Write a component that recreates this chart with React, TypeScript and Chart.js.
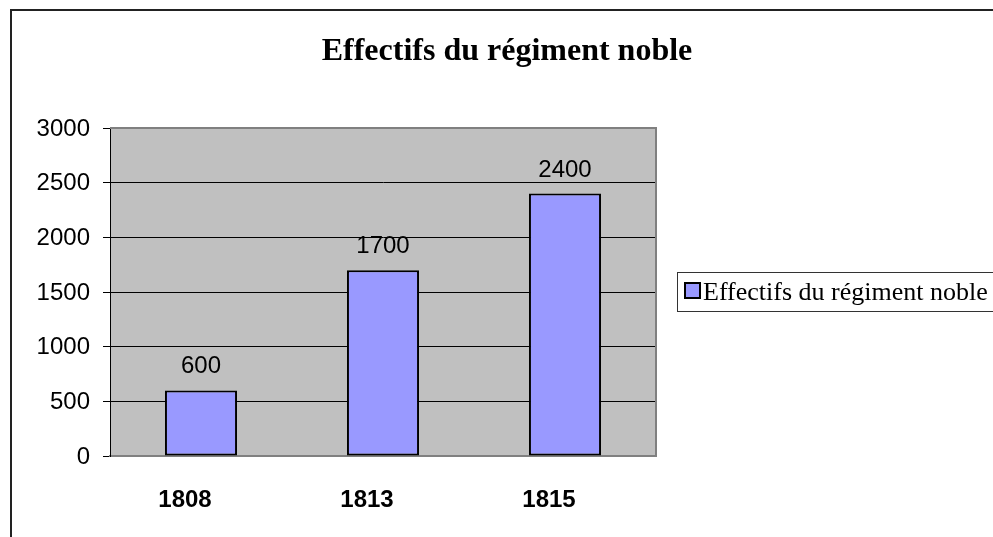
import React, { useEffect, useRef } from "react";
import { Chart, registerables } from "chart.js";

Chart.register(...registerables);

const categories = ["1808", "1813", "1815"];
const seriesLabel = "Effectifs du régiment noble";
const seriesValues = [600, 1700, 2400];
const yTicks = [0, 500, 1000, 1500, 2000, 2500, 3000];
const chartTitle = "Effectifs du régiment noble";

const W = 993;
const H = 537;

export default function App() {
  const ref = useRef<HTMLCanvasElement | null>(null);

  useEffect(() => {
    if (!ref.current) return;
    const decor = {
      id: "decor",
      beforeDraw(chart: any) {
        const { ctx, chartArea } = chart;
        ctx.save();
        ctx.fillStyle = "#ffffff";
        ctx.fillRect(0, 0, W, H);
        ctx.fillStyle = "#c0c0c0";
        ctx.fillRect(chartArea.left, chartArea.top, chartArea.right - chartArea.left, chartArea.bottom - chartArea.top);
        // outer frame
        ctx.strokeStyle = "#222222";
        ctx.lineWidth = 2;
        ctx.beginPath();
        ctx.moveTo(11, H + 2);
        ctx.lineTo(11, 10);
        ctx.lineTo(W + 2, 10);
        ctx.stroke();
        ctx.restore();
      },
      afterDatasetsDraw(chart: any) {
        const { ctx } = chart;
        const meta = chart.getDatasetMeta(0);
        ctx.save();
        ctx.fillStyle = "#000000";
        ctx.font = "24px 'Liberation Sans', Arial, sans-serif";
        ctx.textAlign = "center";
        ctx.textBaseline = "alphabetic";
        meta.data.forEach((bar: any, i: number) => {
          ctx.fillText(String(seriesValues[i]), bar.x, bar.y - 17);
        });
        ctx.restore();
      },
      afterDraw(chart: any) {
        const { ctx, chartArea } = chart;
        ctx.save();
        // plot border (top/right)
        ctx.strokeStyle = "#808080";
        ctx.lineWidth = 2;
        ctx.beginPath();
        ctx.moveTo(chartArea.left, chartArea.top);
        ctx.lineTo(chartArea.right, chartArea.top);
        ctx.lineTo(chartArea.right, chartArea.bottom);
        ctx.stroke();
        // title
        ctx.fillStyle = "#000000";
        ctx.font = "bold 32px 'Liberation Serif', 'Times New Roman', serif";
        ctx.textAlign = "center";
        ctx.textBaseline = "alphabetic";
        ctx.fillText(chartTitle, 507, 60);
        // legend
        ctx.strokeStyle = "#333333";
        ctx.lineWidth = 1;
        ctx.strokeRect(677.5, 272.5, 330, 39);
        ctx.fillStyle = "#9999ff";
        ctx.fillRect(685, 283, 15, 15);
        ctx.strokeStyle = "#000000";
        ctx.lineWidth = 2;
        ctx.strokeRect(685, 283, 15, 15);
        ctx.fillStyle = "#000000";
        ctx.font = "26px 'Liberation Serif', 'Times New Roman', serif";
        ctx.textAlign = "left";
        ctx.textBaseline = "alphabetic";
        ctx.fillText(seriesLabel, 703, 300);
        ctx.restore();
      },
    };

    const chart = new Chart(ref.current, {
      type: "bar",
      data: {
        labels: categories,
        datasets: [
          {
            label: seriesLabel,
            data: seriesValues,
            backgroundColor: "#9999ff",
            borderColor: "#000000",
            borderWidth: 2,
            borderSkipped: false,
            categoryPercentage: 1,
            barPercentage: 0.396,
          },
        ],
      },
      options: {
        responsive: false,
        animation: false,
        devicePixelRatio: 1,
        layout: { padding: { left: 0, top: 128, right: 337, bottom: 0 } },
        plugins: {
          legend: { display: false },
          title: { display: false },
          tooltip: { enabled: false },
        },
        scales: {
          x: {
            type: "category",
            offset: true,
            afterFit(scale: any) {
              scale.height = 81;
            },
            grid: { display: false, drawTicks: false },
            border: { display: true, color: "#808080", width: 2 },
            ticks: {
              color: "#000000",
              padding: 30,
              labelOffset: -16,
              font: { family: "'Liberation Sans', Arial, sans-serif", size: 24, weight: "bold" },
            },
          },
          y: {
            min: 0,
            max: 3000,
            afterFit(scale: any) {
              scale.width = 110;
            },
            afterBuildTicks(scale: any) {
              scale.ticks = yTicks.map((v) => ({ value: v }));
            },
            grid: { color: "#000000", lineWidth: 1, drawTicks: true, tickLength: 7, tickColor: "#000000" },
            border: { display: true, color: "#000000", width: 1 },
            ticks: {
              color: "#000000",
              padding: 13,
              labelOffset: 1,
              callback: (v: any) => String(v),
              font: { family: "'Liberation Sans', Arial, sans-serif", size: 24 },
            },
          },
        },
      },
      plugins: [decor],
    });
    return () => chart.destroy();
  }, []);

  return (
    <div style={{ position: "absolute", left: 0, top: 0, width: W, height: H }}>
      <canvas ref={ref} width={W} height={H} style={{ width: W, height: H, display: "block" }} />
    </div>
  );
}
